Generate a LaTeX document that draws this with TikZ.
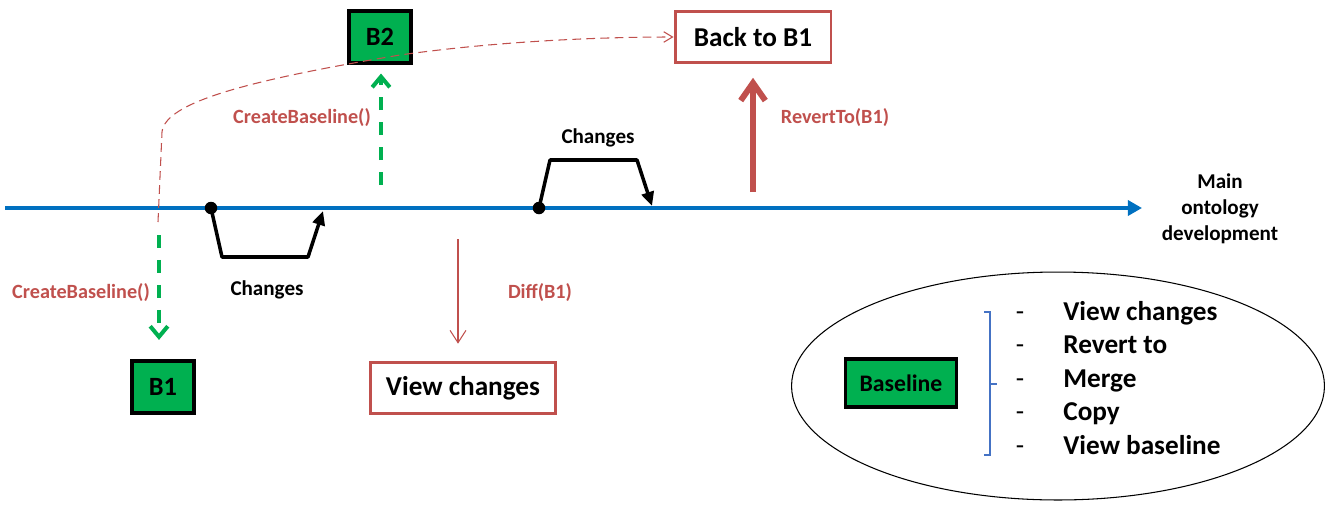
\documentclass[tikz,border=0pt]{standalone}
\usepackage{fontspec}
\setmainfont{Carlito}
\usetikzlibrary{arrows.meta,shapes.geometric}
\definecolor{bgreen}{HTML}{00B050}
\definecolor{rred}{HTML}{C0504D}
\definecolor{mblue}{HTML}{0070C0}
\definecolor{lblue}{HTML}{4472C4}
\begin{document}
\begin{tikzpicture}[
    x=0.02cm, y=-0.02cm,
    every node/.style={align=center, inner sep=0pt},
    base box/.style={draw=black, line width=2pt, fill=bgreen, minimum width=1.24cm, minimum height=1.04cm, font=\fontsize{15}{18}\selectfont\bfseries},
    red box/.style={draw=rred, line width=1.7pt, fill=white, minimum height=1.01cm, font=\fontsize{15.5}{18}\selectfont\bfseries},
    op label/.style={text=rred, font=\fontsize{11.5}{14}\selectfont\bfseries},
    change label/.style={font=\fontsize{12}{14}\selectfont\bfseries},
    item/.style={anchor=base west, font=\fontsize{15.5}{18}\selectfont\bfseries},
    dash item/.style={anchor=base, font=\fontsize{15.5}{18}\selectfont},
    main line/.style={draw=mblue, line width=2.5pt, -{Triangle[length=8pt,width=8.5pt]}},
    change arrow/.style={draw=black, line width=2pt, line join=round, -{Triangle[length=8pt,width=7pt]}},
    dot/.style={circle, fill=black, minimum size=0.25cm},
    baseline arrow/.style={draw=bgreen, line width=2.3pt, dash pattern=on 7.4pt off 6.8pt, -{Straight Barb[length=6pt,width=10pt]}},
    revert arrow/.style={draw=rred, line width=3.4pt, -{Straight Barb[length=10pt,width=14pt]}},
    diff arrow/.style={draw=rred, line width=0.6pt, -{Straight Barb[length=7pt,width=9pt]}},
    link line/.style={draw=rred, line width=0.6pt, dash pattern=on 5pt off 3pt, -{Straight Barb[length=5pt,width=6pt]}},
    ]
\useasboundingbox (0,0) rectangle (1327,504);
% main line
\coordinate (start) at (5,208);
\coordinate (mainend) at (1142,208);
\draw[main line] (start) -- (mainend);
\node[change label, font=\fontsize{12}{14.7}\selectfont\bfseries] (dev) at (1220,209) {Main\\ontology\\development};
\node[dot] (dotA) at (211,208) {};
\node[dot] (dotB) at (539,208) {};
\coordinate (tipA) at (323,211);
\coordinate (tipB) at (652,206);
\draw[change arrow] (dotA.center) -- (222,257) -- (308,257) -- (tipA);
\draw[change arrow] (dotB.center) -- (550,160) -- (637,160) -- (tipB);
\node[change label] (chgA) at (267,290) {Changes};
\node[change label] (chgB) at (598,138) {Changes};
% baselines
\node[base box] (B1) at (163,387) {B1};
\node[base box] (B2) at (380,37) {B2};
\coordinate (cbA) at (159,235);
\coordinate (cbB) at (381,185);
\draw[baseline arrow, shorten >=11pt] (cbA) -- (cbA |- B1.north);
\draw[baseline arrow, shorten >=5pt] (cbB) -- (cbB |- B2.south);
\node[op label] (cbAlabel) at (81,293) {CreateBaseline()};
\node[op label] (cbBlabel) at (302,118) {CreateBaseline()};
% operations
\node[red box, minimum width=3.7cm] (view) at (463,388) {View changes};
\node[red box, minimum width=3.12cm] (back) at (753,37) {Back to B1};
\coordinate (diffstart) at (458,239);
\draw[diff arrow, shorten >=10pt] (diffstart) -- (diffstart |- view.north);
\node[op label] (difflabel) at (540,293) {Diff(B1)};
\coordinate (revstart) at (753,192);
\draw[revert arrow, shorten >=8pt] (revstart) -- (back.south);
\node[op label] (revlabel) at (835,118) {RevertTo(B1)};
\coordinate (linkstart) at (158,222);
\draw[link line] (linkstart) -- (162,132) .. controls (165,102) and (250,80) .. (400,55) .. controls (500,41) and (600,37) .. (back.west);
% summary
\node[ellipse, draw=black, line width=0.6pt, minimum width=10.66cm, minimum height=4.56cm] (panel) at (1058,386) {};
\node[base box, minimum width=2.22cm, minimum height=0.96cm, font=\fontsize{13.5}{16}\selectfont\bfseries] (base) at (901,383) {Baseline};
\draw[lblue, line width=0.8pt] (984,312) -- (990,312) -- (990,455) -- (984,455);
\draw[lblue, line width=0.8pt] (990,384) -- (997,384);
\foreach \txt [count=\i] in {View changes, Revert to, Merge, Copy, View baseline} {
  \node[dash item] (dash\i) at (1020,320+33.5*\i-33.5) {-};
  \node[item] (op\i) at (1063,320+33.5*\i-33.5) {\txt};
}
\end{tikzpicture}
\end{document}
